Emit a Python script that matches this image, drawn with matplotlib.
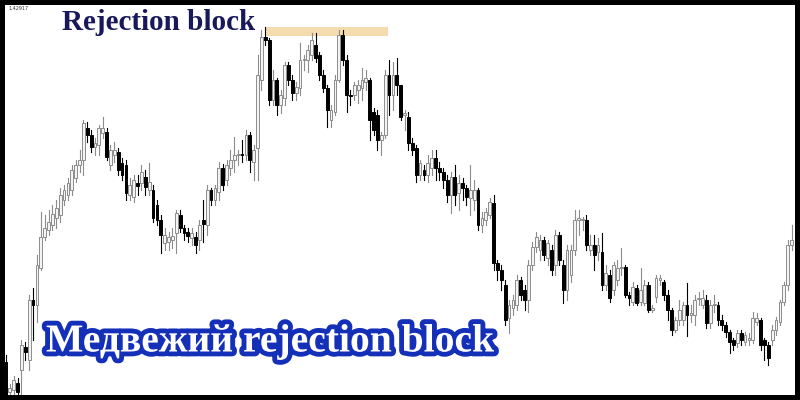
import matplotlib
matplotlib.use("Agg")
import matplotlib.pyplot as plt
import matplotlib.patheffects as pe
from matplotlib.patches import Rectangle

# candle prices (arbitrary units) left to right
opens = [38, 8, 10, 17, 30, 53, 40, 100, 95, 132, 163, 170, 175, 182, 185, 200,
         205, 210, 222, 235, 240, 272, 265, 253, 255, 267, 268, 235, 245, 248, 237, 235,
         205, 203, 217, 217, 223, 210, 210, 195, 180, 157, 158, 160, 167, 185, 172, 168,
         162, 163, 160, 180, 175, 210, 200, 208, 232, 220, 232, 240, 245, 246, 245, 265,
         238, 252, 320, 363, 360, 300, 320, 295, 302, 335, 320, 307, 312, 340, 340, 345,
         355, 345, 325, 312, 280, 288, 320, 365, 340, 305, 305, 310, 312, 318, 320, 288,
         285, 260, 265, 325, 305, 325, 315, 285, 283, 257, 252, 225, 230, 225, 232, 242,
         232, 228, 220, 205, 223, 207, 217, 212, 202, 200, 210, 175, 180, 185, 197, 137,
         130, 115, 82, 92, 95, 120, 110, 100, 135, 153, 150, 160, 142, 150, 135, 165,
         135, 110, 125, 150, 180, 180, 180, 150, 155, 148, 148, 115, 125, 110, 120, 132,
         133, 105, 98, 112, 98, 97, 115, 90, 103, 120, 118, 105, 90, 70, 80, 80,
         95, 85, 85, 101, 95, 100, 77, 95, 95, 80, 75, 68, 60, 57, 67, 58,
         60, 60, 78, 80, 60, 55, 60, 70, 78, 98, 115, 155]
highs = [45, 16, 24, 22, 60, 58, 105, 112, 145, 188, 185, 190, 195, 200, 212, 215,
         222, 235, 240, 250, 280, 278, 270, 262, 275, 283, 272, 255, 258, 252, 242, 240,
         222, 225, 225, 235, 230, 237, 215, 200, 185, 172, 168, 172, 190, 190, 175, 172,
         172, 168, 180, 200, 215, 212, 215, 238, 236, 240, 250, 263, 250, 260, 270, 268,
         255, 345, 370, 373, 362, 330, 322, 310, 338, 338, 325, 318, 357, 345, 355, 367,
         367, 348, 330, 315, 295, 325, 370, 370, 345, 310, 318, 320, 332, 330, 322, 292,
         290, 268, 330, 340, 338, 342, 315, 290, 288, 262, 255, 240, 235, 245, 250, 250,
         238, 232, 225, 228, 235, 225, 222, 215, 235, 220, 212, 188, 192, 202, 205, 140,
         135, 120, 100, 105, 125, 123, 115, 140, 158, 168, 165, 163, 160, 155, 170, 168,
         140, 155, 155, 190, 190, 183, 185, 165, 165, 162, 167, 135, 130, 138, 140, 152,
         135, 108, 118, 115, 132, 120, 118, 95, 125, 125, 120, 110, 92, 83, 100, 98,
         117, 95, 105, 108, 110, 105, 100, 105, 98, 85, 78, 70, 62, 70, 70, 68,
         67, 88, 87, 82, 62, 58, 75, 83, 100, 118, 160, 175]
lows = [3, 4, 6, 5, 5, 40, 30, 60, 78, 130, 160, 165, 170, 172, 178, 195,
        200, 205, 218, 228, 225, 258, 248, 245, 245, 262, 240, 230, 238, 225, 220, 200,
        200, 198, 205, 210, 205, 205, 178, 175, 147, 150, 150, 152, 147, 168, 160, 158,
        155, 147, 150, 158, 165, 195, 195, 200, 210, 215, 225, 228, 235, 238, 240, 228,
        220, 220, 310, 355, 295, 295, 285, 287, 295, 315, 300, 300, 305, 330, 328, 340,
        338, 320, 308, 273, 273, 285, 318, 335, 288, 295, 300, 297, 300, 310, 260, 265,
        250, 245, 262, 285, 290, 305, 280, 270, 250, 245, 218, 220, 220, 218, 225, 220,
        220, 212, 198, 187, 195, 190, 200, 195, 185, 190, 170, 168, 175, 182, 130, 120,
        110, 75, 67, 85, 90, 100, 90, 88, 130, 148, 140, 140, 135, 125, 125, 135,
        97, 100, 118, 145, 165, 170, 150, 145, 130, 140, 110, 110, 98, 105, 115, 125,
        103, 95, 95, 95, 95, 95, 88, 88, 98, 115, 100, 80, 65, 68, 75, 75,
        64, 78, 75, 95, 92, 72, 72, 88, 75, 70, 63, 47, 50, 53, 55, 55,
        55, 57, 75, 50, 40, 35, 55, 65, 75, 95, 110, 150]
closes = [5, 12, 20, 8, 55, 48, 100, 95, 135, 163, 172, 178, 186, 192, 205, 210,
          217, 230, 235, 240, 277, 265, 253, 257, 272, 272, 243, 250, 250, 230, 225, 207,
          215, 220, 214, 228, 213, 218, 182, 180, 165, 165, 163, 164, 187, 172, 167, 164,
          167, 155, 175, 176, 210, 200, 212, 232, 215, 235, 240, 245, 246, 245, 265, 240,
          250, 325, 363, 360, 300, 320, 295, 305, 335, 320, 307, 313, 340, 340, 350, 360,
          342, 325, 312, 290, 290, 320, 365, 340, 305, 304, 315, 315, 320, 322, 280, 270,
          260, 265, 325, 305, 325, 315, 283, 287, 257, 250, 225, 237, 225, 237, 242, 232,
          228, 220, 205, 223, 205, 217, 212, 203, 210, 210, 175, 182, 188, 198, 137, 130,
          120, 80, 95, 100, 120, 105, 100, 135, 153, 163, 160, 145, 157, 130, 165, 140,
          110, 150, 150, 180, 182, 180, 155, 155, 145, 155, 115, 127, 102, 135, 132, 133,
          105, 102, 113, 97, 110, 115, 90, 92, 122, 122, 105, 90, 70, 80, 90, 95,
          85, 87, 100, 102, 102, 77, 95, 96, 80, 75, 68, 58, 55, 67, 60, 65,
          62, 82, 82, 55, 55, 42, 70, 80, 98, 115, 155, 160]

price_label = "1.42917"
title_text = "Rejection block"
caption_text = "Медвежий rejection block"
block_start, block_end = 66.9, 98.7
block_low, block_high = 364, 373

fig = plt.figure(figsize=(8, 4), dpi=100, facecolor="black")
ax = fig.add_axes([5 / 800, 5 / 400, 790 / 800, 390 / 400])
ax.set_facecolor("white")

ax.add_patch(Rectangle((block_start, block_low), block_end - block_start, block_high - block_low,
                       facecolor="#f5dcae", edgecolor="none", zorder=1))

width = 0.72
for i, (o, h, l, c) in enumerate(zip(opens, highs, lows, closes)):
    up = c >= o
    wick_col = "#8c8c8c" if up else "black"
    ax.plot([i, i], [l, h], color=wick_col, linewidth=0.8, zorder=2)
    body_low = min(o, c)
    body_h = max(abs(c - o), 1.2)
    if up:
        ax.add_patch(Rectangle((i - width / 2, body_low), width, body_h,
                               facecolor="#f4f4f4", edgecolor="#8c8c8c", linewidth=0.7, zorder=3))
    else:
        ax.add_patch(Rectangle((i - width / 2, body_low), width, body_h,
                               facecolor="black", edgecolor="black", linewidth=0.7, zorder=3))

ax.set_xlim(-0.26, 203.9)
ax.set_ylim(5, 395)
ax.set_xticks([])
ax.set_yticks([])
for s in ax.spines.values():
    s.set_visible(False)

fig.text(8 / 800, 1 - 9 / 400, price_label, fontsize=3.5, color="#333333", va="center")
fig.text(62 / 800, 1 - 23 / 400, title_text, fontsize=21, fontweight="bold",
         family="Liberation Serif", color="#18185a", va="center")
cap = fig.text(46 / 800, 1 - 342 / 400, caption_text, fontsize=28.5, fontweight="bold",
               family="Liberation Serif", color="white", va="center")
cap.set_path_effects([pe.Stroke(linewidth=7, foreground="#1530b8"), pe.Normal()])

fig.savefig("out.png", dpi=100, facecolor="black")
